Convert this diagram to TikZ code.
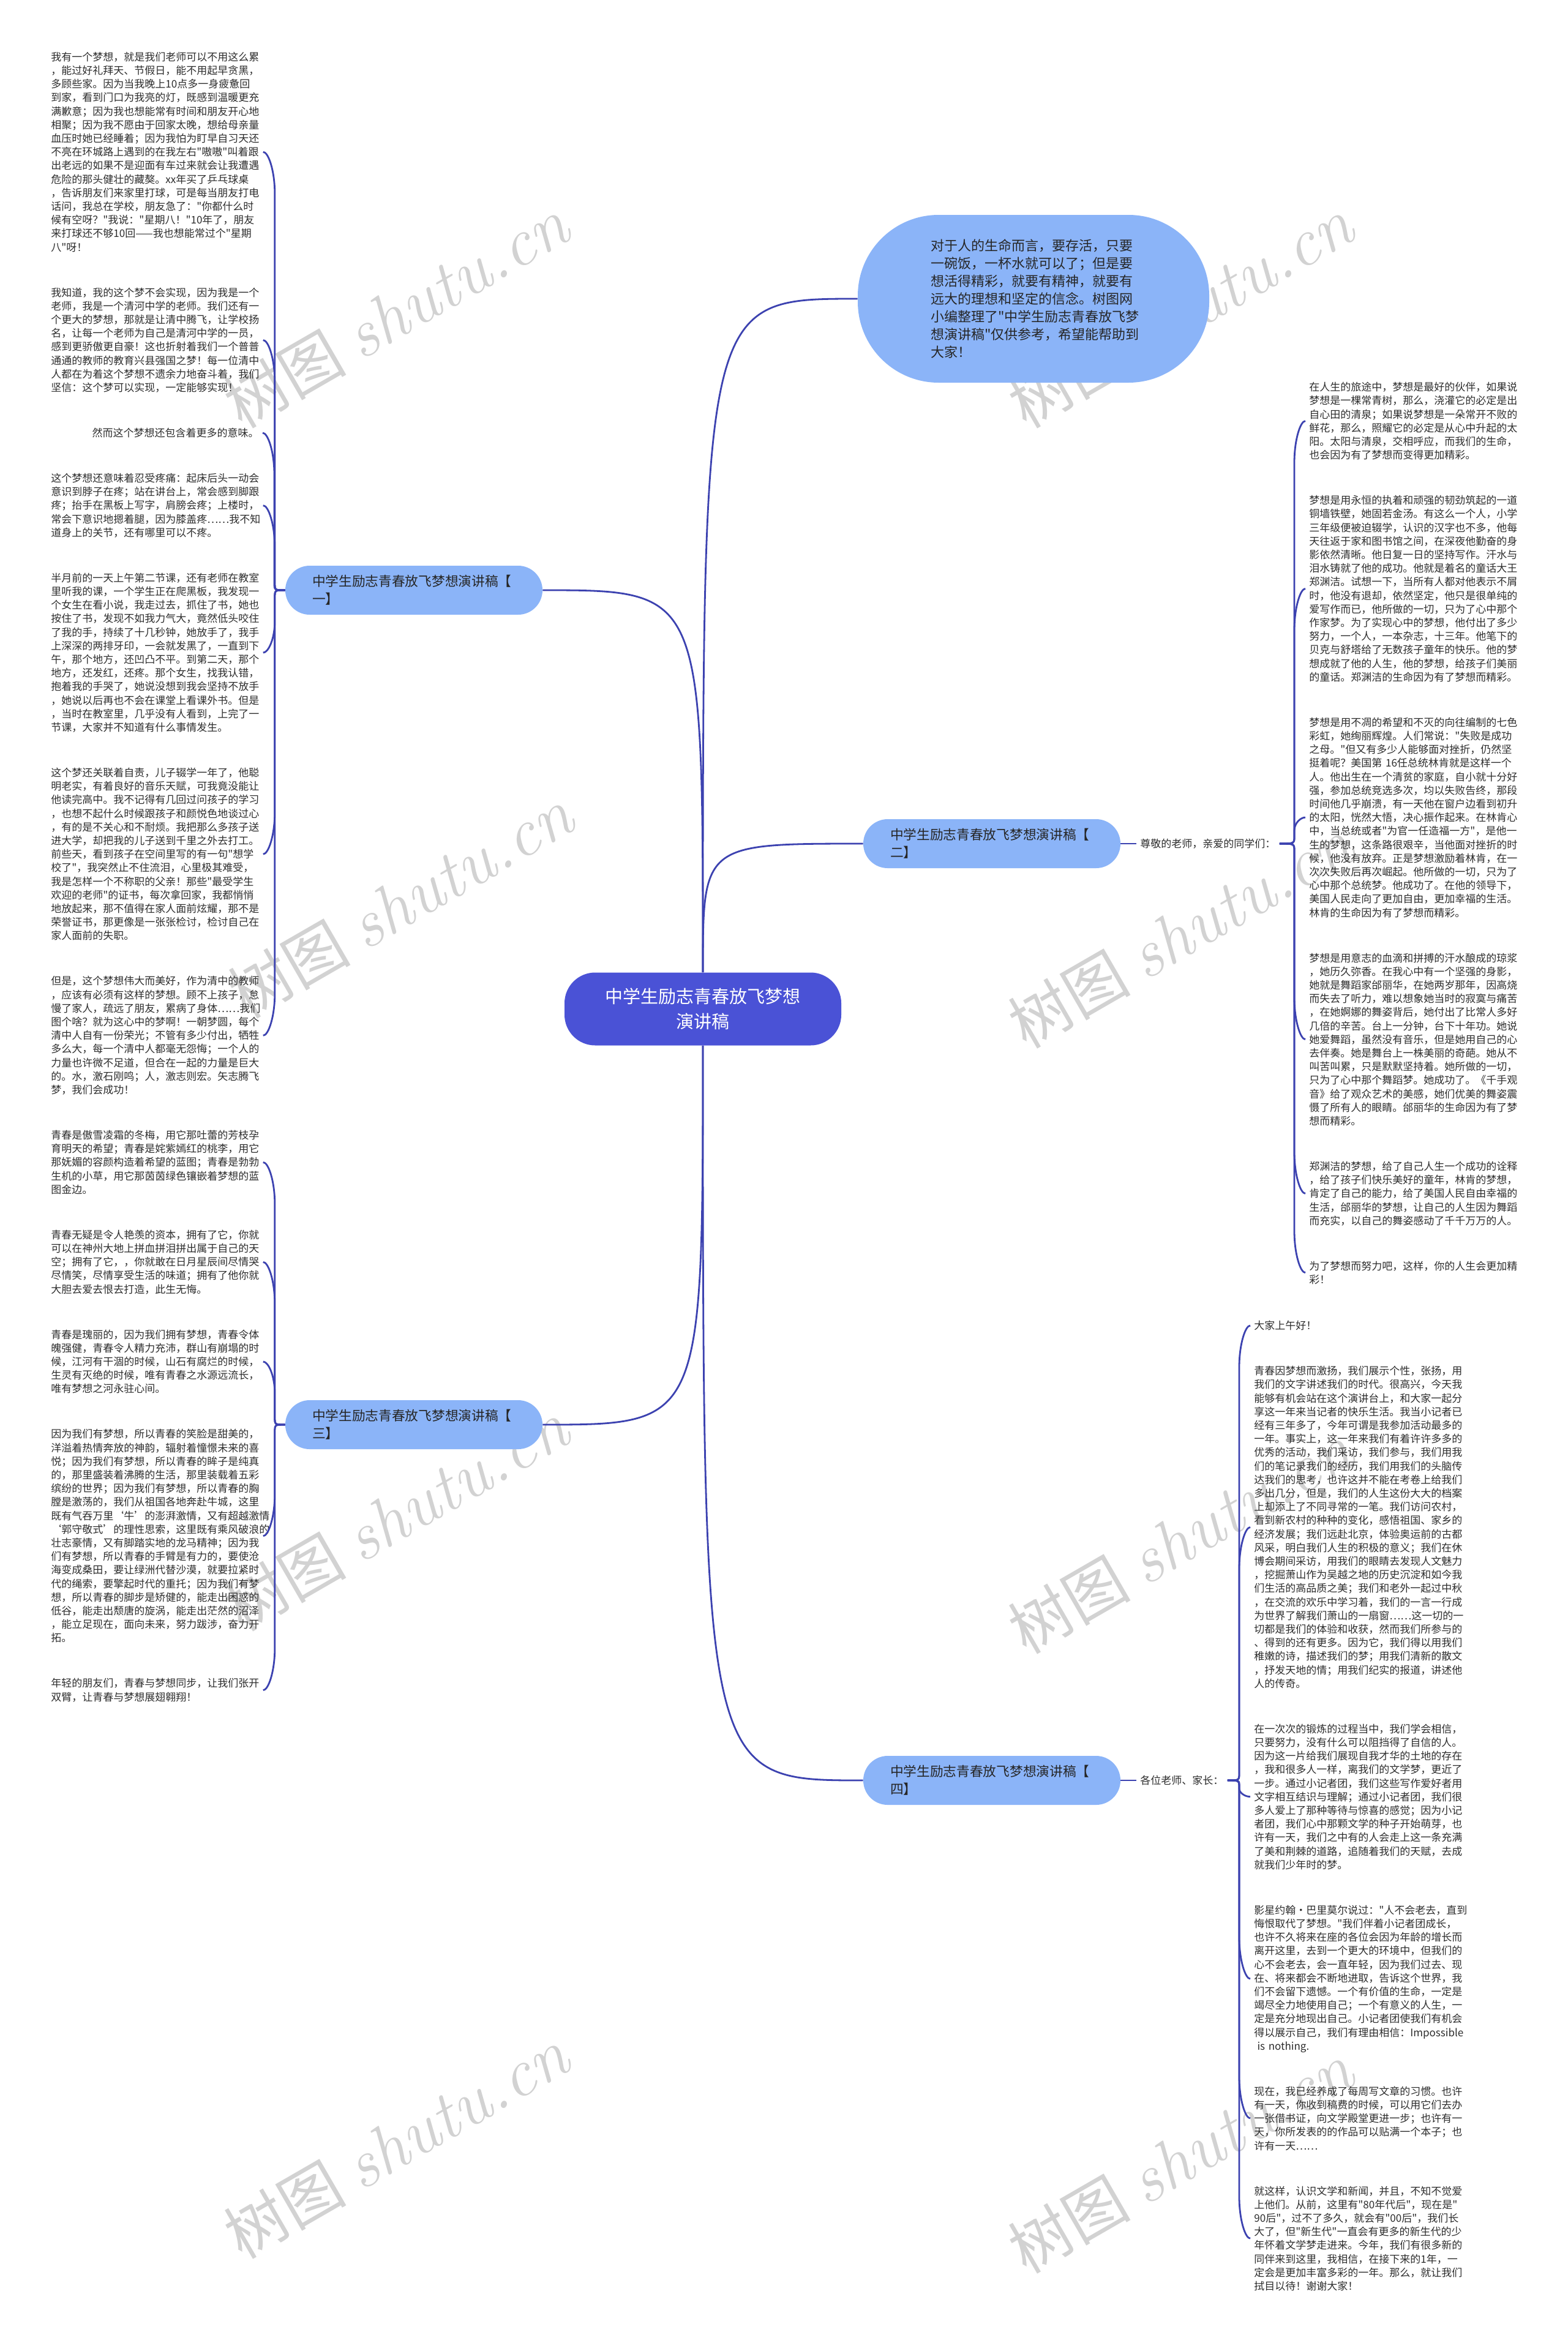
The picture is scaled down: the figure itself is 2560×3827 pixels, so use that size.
\documentclass[tikz,border=0pt]{standalone}
\usepackage{fontspec}
\newfontfamily\cjk{Noto Sans CJK SC}
\usetikzlibrary{calc}
\definecolor{linec}{RGB}{60,66,176}
\definecolor{cfill}{RGB}{74,82,214}
\definecolor{bfill}{RGB}{139,180,248}
\definecolor{ltext}{RGB}{45,45,45}
\newcommand\lffont{\cjk\fontsize{8.5pt}{11.1pt}\selectfont}
\newcommand\brfont{\cjk\fontsize{10.85pt}{14.5pt}\selectfont}
\newcommand\tpfont{\cjk\fontsize{11pt}{14.5pt}\selectfont}
\newcommand\ctfont{\cjk\fontsize{14.5pt}{20.5pt}\selectfont}
\newcommand\wmtext{{\cjk\fontsize{50pt}{50pt}\selectfont 树图}\hspace{12pt}{\fontsize{56pt}{56pt}\selectfont\itshape shutu.cn}}
\tikzset{
  conn/.style={draw=linec, line width=1.4pt},
  hook/.style={to path={let \p1=(\tikztostart), \p2=(\tikztotarget),
      \n1={ifthenelse(\y2>\y1,1,-1)}, \n2={min(6,abs(\y2-(\y1))/4)},
      \n4={min(34,abs(\y2-(\y1))/2)}, \n3={\x2+(#1)} in
      (\p1) .. controls (\n3,\y1) .. ({\n3},{\y1+(\n1)*(\n2)})
      -- ({\n3},{\y2-(\n1)*(\n4)})
      .. controls ({\n3},{\y2-(\n1)*(\n4)*0.45}) and ({\x2+(#1)*0.45},{\y2}) .. (\p2)}},
  leaf/.style={inner xsep=3pt, inner ysep=1pt, text width=170pt, align=left, font=\lffont, text=ltext, anchor=base west},
  lbl/.style={inner xsep=3pt, inner ysep=1pt, font=\lffont, text=ltext, anchor=west},
  branch/.style={fill=bfill, rounded corners=19.9pt, minimum width=210pt, minimum height=40pt, text width=166pt, align=left, font=\brfont, text=black!85, inner sep=0pt},
  topnode/.style={fill=bfill, rounded corners=66pt, minimum width=287pt, minimum height=137pt, text width=168pt, align=left, font=\tpfont, text=black!85, inner sep=0pt},
  centernode/.style={fill=cfill, rounded corners=25pt, minimum width=226pt, minimum height=59.5pt, align=center, font=\ctfont, text=white, inner sep=0pt},
  wm/.style={text=gray!35, rotate=30, inner sep=0pt},
}
\begin{document}
\begin{tikzpicture}[x=0.5pt,y=-0.5pt]
\useasboundingbox (0,0) rectangle (2560,3827);
\fill[white] (0,0) rectangle (2560,3827);

% watermarks
\node[wm] (w1) at (647,512) {\wmtext};
\node[wm] (w2) at (1928,512) {\wmtext};
\node[wm] (w3) at (654,1476) {\wmtext};
\node[wm] (w4) at (1928,1525) {\wmtext};
\node[wm] (w5) at (647,2477) {\wmtext};
\node[wm] (w6) at (1928,2514) {\wmtext};
\node[wm] (w7) at (647,3502) {\wmtext};
\node[wm] (w8) at (1928,3526) {\wmtext};

% main nodes
\node[centernode] (c) at (1148,1648) {中学生励志青春放飞梦想\\演讲稿};
\node[topnode] (tp) at (1688,488) {对于人的生命而言，要存活，只要\\
一碗饭，一杯水就可以了；但是要\\
想活得精彩，就要有精神，就要有\\
远大的理想和坚定的信念。树图网\\
小编整理了"中学生励志青春放飞梦\\
想演讲稿"仅供参考，希望能帮助到\\
大家！};
\node[branch] (b1) at (676,964) {中学生励志青春放飞梦想演讲稿【\\一】};
\node[branch] (b2) at (1620,1378) {中学生励志青春放飞梦想演讲稿【\\二】};
\node[branch] (b3) at (676,2327) {中学生励志青春放飞梦想演讲稿【\\三】};
\node[branch] (b4) at (1620,2908) {中学生励志青春放飞梦想演讲稿【\\四】};

\node[lbl] (t2) at (1856,1378) {尊敬的老师，亲爱的同学们：};
\node[lbl] (t4) at (1856,2908) {各位老师、家长：};

% left leaves (branch 1)
\node[leaf] (l1) at (77,99.3) {我有一个梦想，就是我们老师可以不用这么累\\
，能过好礼拜天、节假日，能不用起早贪黑，\\
多顾些家。因为当我晚上10点多一身疲惫回\\
到家，看到门口为我亮的灯，既感到温暖更充\\
满歉意；因为我也想能常有时间和朋友开心地\\
相聚；因为我不愿由于回家太晚，想给母亲量\\
血压时她已经睡着；因为我怕为盯早自习天还\\
不亮在环城路上遇到的在我左右"嗷嗷"叫着跟\\
出老远的如果不是迎面有车过来就会让我遭遇\\
危险的那头健壮的藏獒。xx年买了乒乓球桌\\
，告诉朋友们来家里打球，可是每当朋友打电\\
话问，我总在学校，朋友急了："你都什么时\\
候有空呀？"我说："星期八！"10年了，朋友\\
来打球还不够10回——我也想能常过个"星期\\
八"呀！};
\node[leaf] (l2) at (77,484.1) {我知道，我的这个梦不会实现，因为我是一个\\
老师，我是一个清河中学的老师。我们还有一\\
个更大的梦想，那就是让清中腾飞，让学校扬\\
名，让每一个老师为自己是清河中学的一员，\\
感到更骄傲更自豪！这也折射着我们一个普普\\
通通的教师的教育兴县强国之梦！每一位清中\\
人都在为着这个梦想不遗余力地奋斗着，我们\\
坚信：这个梦可以实现，一定能够实现！};
\node[font=\lffont, text=ltext, inner xsep=3pt, inner ysep=1pt, anchor=base east] (l3) at (429,713.5) {然而这个梦想还包含着更多的意味。};
\node[leaf] (l4) at (77,787.5) {这个梦想还意味着忍受疼痛：起床后头一动会\\
意识到脖子在疼；站在讲台上，常会感到脚跟\\
疼；抬手在黑板上写字，肩膀会疼；上楼时，\\
常会下意识地摁着腿，因为膝盖疼……我不知\\
道身上的关节，还有哪里可以不疼。};
\node[leaf] (l5) at (77,950.3) {半月前的一天上午第二节课，还有老师在教室\\
里听我的课，一个学生正在爬黑板，我发现一\\
个女生在看小说，我走过去，抓住了书，她也\\
按住了书，发现不如我力气大，竟然低头咬住\\
了我的手，持续了十几秒钟，她放手了，我手\\
上深深的两排牙印，一会就发黑了，一直到下\\
午，那个地方，还凹凸不平。到第二天，那个\\
地方，还发红，还疼。那个女生，找我认错，\\
抱着我的手哭了，她说没想到我会坚持不放手\\
，她说以后再也不会在课堂上看课外书。但是\\
，当时在教室里，几乎没有人看到，上完了一\\
节课，大家并不知道有什么事情发生。};
\node[leaf] (l6) at (77,1268.5) {这个梦还关联着自责，儿子辍学一年了，他聪\\
明老实，有着良好的音乐天赋，可我竟没能让\\
他读完高中。我不记得有几回过问孩子的学习\\
，也想不起什么时候跟孩子和颜悦色地谈过心\\
，有的是不关心和不耐烦。我把那么多孩子送\\
进大学，却把我的儿子送到千里之外去打工。\\
前些天，看到孩子在空间里写的有一句"想学\\
校了"，我突然止不住流泪，心里极其难受，\\
我是怎样一个不称职的父亲！那些"最受学生\\
欢迎的老师"的证书，每次拿回家，我都悄悄\\
地放起来，那不值得在家人面前炫耀，那不是\\
荣誉证书，那更像是一张张检讨，检讨自己在\\
家人面前的失职。};
\node[leaf] (l7) at (77,1608.9) {但是，这个梦想伟大而美好，作为清中的教师\\
，应该有必须有这样的梦想。顾不上孩子，怠\\
慢了家人，疏远了朋友，累病了身体……我们\\
图个啥？就为这心中的梦啊！一朝梦圆，每个\\
清中人自有一份荣光；不管有多少付出，牺牲\\
多么大，每一个清中人都毫无怨悔；一个人的\\
力量也许微不足道，但合在一起的力量是巨大\\
的。水，激石刚鸣；人，激志则宏。矢志腾飞\\
梦，我们会成功！};

% left leaves (branch 3)
\node[leaf] (l8) at (77,1860.5) {青春是傲雪凌霜的冬梅，用它那吐蕾的芳枝孕\\
育明天的希望；青春是姹紫嫣红的桃李，用它\\
那妩媚的容颜构造着希望的蓝图；青春是勃勃\\
生机的小草，用它那茵茵绿色镶嵌着梦想的蓝\\
图金边。};
\node[leaf] (l9) at (77,2023.3) {青春无疑是令人艳羡的资本，拥有了它，你就\\
可以在神州大地上拼血拼泪拼出属于自己的天\\
空；拥有了它，，你就敢在日月星辰间尽情哭\\
尽情笑，尽情享受生活的味道；拥有了他你就\\
大胆去爱去恨去打造，此生无悔。};
\node[leaf] (l10) at (77,2186.1) {青春是瑰丽的，因为我们拥有梦想，青春令体\\
魄强健，青春令人精力充沛，群山有崩塌的时\\
候，江河有干涸的时候，山石有腐烂的时候，\\
生灵有灭绝的时候，唯有青春之水源远流长，\\
唯有梦想之河永驻心间。};
\node[leaf] (l11) at (77,2348.9) {因为我们有梦想，所以青春的笑脸是甜美的，\\
洋溢着热情奔放的神韵，辐射着憧憬未来的喜\\
悦；因为我们有梦想，所以青春的眸子是纯真\\
的，那里盛装着沸腾的生活，那里装载着五彩\\
缤纷的世界；因为我们有梦想，所以青春的胸\\
膛是激荡的，我们从祖国各地奔赴牛城，这里\\
既有气吞万里‘牛’的澎湃激情，又有超越激情\\
‘郭守敬式’的理性思索，这里既有乘风破浪的\\
壮志豪情，又有脚踏实地的龙马精神；因为我\\
们有梦想，所以青春的手臂是有力的，要使沧\\
海变成桑田，要让绿洲代替沙漠，就要拉紧时\\
代的绳索，要擎起时代的重托；因为我们有梦\\
想，所以青春的脚步是矫健的，能走出困惑的\\
低谷，能走出颓唐的旋涡，能走出茫然的沼泽\\
，能立足现在，面向未来，努力跋涉，奋力开\\
拓。};
\node[leaf] (l12) at (77,2755.9) {年轻的朋友们，青春与梦想同步，让我们张开\\
双臂，让青春与梦想展翅翱翔！};

% right leaves (branch 2)
\node[leaf] (r1) at (2132,638.6) {在人生的旅途中，梦想是最好的伙伴，如果说\\
梦想是一棵常青树，那么，浇灌它的必定是出\\
自心田的清泉；如果说梦想是一朵常开不败的\\
鲜花，那么，照耀它的必定是从心中升起的太\\
阳。太阳与清泉，交相呼应，而我们的生命，\\
也会因为有了梦想而变得更加精彩。};
\node[leaf] (r2) at (2132,823.6) {梦想是用永恒的执着和顽强的韧劲筑起的一道\\
铜墙铁壁，她固若金汤。有这么一个人，小学\\
三年级便被迫辍学，认识的汉字也不多，他每\\
天往返于家和图书馆之间，在深夜他勤奋的身\\
影依然清晰。他日复一日的坚持写作。汗水与\\
泪水铸就了他的成功。他就是着名的童话大王\\
郑渊洁。试想一下，当所有人都对他表示不屑\\
时，他没有退却，依然坚定，他只是很单纯的\\
爱写作而已，他所做的一切，只为了心中那个\\
作家梦。为了实现心中的梦想，他付出了多少\\
努力，一个人，一本杂志，十三年。他笔下的\\
贝克与舒塔给了无数孩子童年的快乐。他的梦\\
想成就了他的人生，他的梦想，给孩子们美丽\\
的童话。郑渊洁的生命因为有了梦想而精彩。};
\node[leaf] (r3) at (2132,1186.2) {梦想是用不凋的希望和不灭的向往编制的七色\\
彩虹，她绚丽辉煌。人们常说："失败是成功\\
之母。"但又有多少人能够面对挫折，仍然坚\\
挺着呢？美国第 16任总统林肯就是这样一个\\
人。他出生在一个清贫的家庭，自小就十分好\\
强，参加总统竞选多次，均以失败告终，那段\\
时间他几乎崩溃，有一天他在窗户边看到初升\\
的太阳，恍然大悟，决心振作起来。在林肯心\\
中，当总统或者"为官一任造福一方"，是他一\\
生的梦想，这条路很艰辛，当他面对挫折的时\\
候，他没有放弃。正是梦想激励着林肯，在一\\
次次失败后再次崛起。他所做的一切，只为了\\
心中那个总统梦。他成功了。在他的领导下，\\
美国人民走向了更加自由，更加幸福的生活。\\
林肯的生命因为有了梦想而精彩。};
\node[leaf] (r4) at (2132,1571) {梦想是用意志的血滴和拼搏的汗水酿成的琼浆\\
，她历久弥香。在我心中有一个坚强的身影，\\
她就是舞蹈家邰丽华，在她两岁那年，因高烧\\
而失去了听力，难以想象她当时的寂寞与痛苦\\
，在她婀娜的舞姿背后，她付出了比常人多好\\
几倍的辛苦。台上一分钟，台下十年功。她说\\
她爱舞蹈，虽然没有音乐，但是她用自己的心\\
去伴奏。她是舞台上一株美丽的奇葩。她从不\\
叫苦叫累，只是默默坚持着。她所做的一切，\\
只为了心中那个舞蹈梦。她成功了。《千手观\\
音》给了观众艺术的美感，她们优美的舞姿震\\
慑了所有人的眼睛。邰丽华的生命因为有了梦\\
想而精彩。};
\node[leaf] (r5) at (2132,1911.4) {郑渊洁的梦想，给了自己人生一个成功的诠释\\
，给了孩子们快乐美好的童年，林肯的梦想，\\
肯定了自己的能力，给了美国人民自由幸福的\\
生活，邰丽华的梦想，让自己的人生因为舞蹈\\
而充实，以自己的舞姿感动了千千万万的人。};
\node[leaf] (r6) at (2132,2074.2) {为了梦想而努力吧，这样，你的人生会更加精\\
彩！};

% right leaves (branch 4)
\node[leaf] (f1) at (2042,2171.6) {大家上午好！};
\node[leaf] (f2) at (2042,2245.6) {青春因梦想而激扬，我们展示个性，张扬，用\\
我们的文字讲述我们的时代。很高兴，今天我\\
能够有机会站在这个演讲台上，和大家一起分\\
享这一年来当记者的快乐生活。我当小记者已\\
经有三年多了，今年可谓是我参加活动最多的\\
一年。事实上，这一年来我们有着许许多多的\\
优秀的活动，我们采访，我们参与，我们用我\\
们的笔记录我们的经历，我们用我们的头脑传\\
达我们的思考，也许这并不能在考卷上给我们\\
多出几分，但是，我们的人生这份大大的档案\\
上却添上了不同寻常的一笔。我们访问农村，\\
看到新农村的种种的变化，感悟祖国、家乡的\\
经济发展；我们远赴北京，体验奥运前的古都\\
风采，明白我们人生的积极的意义；我们在休\\
博会期间采访，用我们的眼睛去发现人文魅力\\
，挖掘萧山作为吴越之地的历史沉淀和如今我\\
们生活的高品质之美；我们和老外一起过中秋\\
，在交流的欢乐中学习着，我们的一言一行成\\
为世界了解我们萧山的一扇窗……这一切的一\\
切都是我们的体验和收获，然而我们所参与的\\
、得到的还有更多。因为它，我们得以用我们\\
稚嫩的诗，描述我们的梦；用我们清新的散文\\
，抒发天地的情；用我们纪实的报道，讲述他\\
人的传奇。};
\node[leaf] (f3) at (2042,2830.2) {在一次次的锻炼的过程当中，我们学会相信，\\
只要努力，没有什么可以阻挡得了自信的人。\\
因为这一片给我们展现自我才华的土地的存在\\
，我和很多人一样，离我们的文学梦，更近了\\
一步。通过小记者团，我们这些写作爱好者用\\
文字相互结识与理解；通过小记者团，我们很\\
多人爱上了那种等待与惊喜的感觉；因为小记\\
者团，我们心中那颗文学的种子开始萌芽，也\\
许有一天，我们之中有的人会走上这一条充满\\
了美和荆棘的道路，追随着我们的天赋，去成\\
就我们少年时的梦。};
\node[leaf] (f4) at (2042,3126.2) {影星约翰·巴里莫尔说过："人不会老去，直到\\
悔恨取代了梦想。"我们伴着小记者团成长，\\
也许不久将来在座的各位会因为年龄的增长而\\
离开这里，去到一个更大的环境中，但我们的\\
心不会老去，会一直年轻，因为我们过去、现\\
在、将来都会不断地进取，告诉这个世界，我\\
们不会留下遗憾。一个有价值的生命，一定是\\
竭尽全力地使用自己；一个有意义的人生，一\\
定是充分地现出自己。小记者团使我们有机会\\
得以展示自己，我们有理由相信：Impossible\\
\hspace*{0.3em}is nothing.};
\node[leaf] (f5) at (2042,3422.2) {现在，我已经养成了每周写文章的习惯。也许\\
有一天，你收到稿费的时候，可以用它们去办\\
一张借书证，向文学殿堂更进一步；也许有一\\
天，你所发表的的作品可以贴满一个本子；也\\
许有一天……};
\node[leaf] (f6) at (2042,3585) {就这样，认识文学和新闻，并且，不知不觉爱\\
上他们。从前，这里有"80年代后"，现在是"\\
90后"，过不了多久，就会有"00后"，我们长\\
大了，但"新生代"一直会有更多的新生代的少\\
年怀着文学梦走进来。今年，我们有很多新的\\
同伴来到这里，我相信，在接下来的1年，一\\
定会是更加丰富多彩的一年。那么，就让我们\\
拭目以待！谢谢大家！};

% connectors from center
\draw[conn] (c.north) .. controls (c.north |- tp.west) .. (tp.west);
\draw[conn] (c.north) .. controls (c.north |- b1.east) .. (b1.east);
\draw[conn] (c.north) .. controls (c.north |- b2.west) .. (b2.west);
\draw[conn] (c.south) .. controls (c.south |- b3.east) .. (b3.east);
\draw[conn] (c.south) .. controls (c.south |- b4.west) .. (b4.west);

% branch 1 leaves
\foreach \nm in {l1,l2,l3,l4,l5,l6,l7}
  \draw[conn] (b1.west) to[hook=9.5pt] (\nm.east);
% branch 3 leaves
\foreach \nm in {l8,l9,l10,l11,l12}
  \draw[conn] (b3.west) to[hook=9.5pt] (\nm.east);
% branch 2
\draw[conn] (b2.east) -- (t2.west);
\foreach \nm in {r1,r2,r3,r4,r5,r6}
  \draw[conn] (t2.east) to[hook=-9pt] (\nm.west);
% branch 4
\draw[conn] (b4.east) -- (t4.west);
\foreach \nm in {f1,f2,f3,f4,f5,f6}
  \draw[conn] (t4.east) to[hook=-9pt] (\nm.west);
\end{tikzpicture}
\end{document}
